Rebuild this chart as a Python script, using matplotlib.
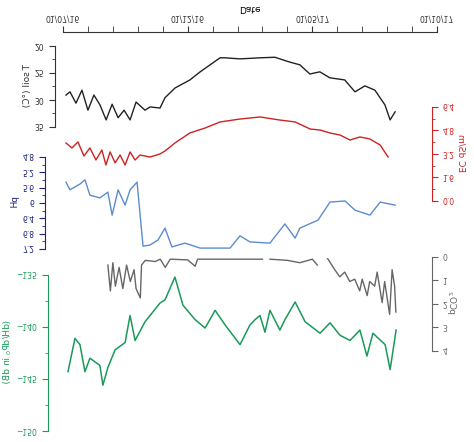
import matplotlib

matplotlib.use("Agg")
import matplotlib.pyplot as plt
import numpy as np

# the reference is shown upside down, so the chart is drawn upright and flipped at the end
W, H = 474, 442

date_ticks = [0, 5, 10, 15]
date_labels = ["01/07/16", "01/12/16", "01/05/17", "01/10/17"]

soil_m = [0.12, 0.28, 0.52, 0.76, 1.0, 1.24, 1.48, 1.73, 1.97, 2.21, 2.45, 2.69, 2.93, 3.29, 3.49,
          3.89, 4.09, 4.49, 5.09, 5.5, 5.9, 6.3, 6.5, 7.1, 7.9, 8.5, 9.1, 9.5, 9.9, 10.3, 10.7,
          11.3, 11.71, 12.11, 12.51, 12.91, 13.12, 13.32]
soil_t = [28.9, 28.3, 30.4, 28.0, 31.7, 28.9, 30.7, 33.5, 30.6, 33.1, 31.7, 33.5, 30.2, 31.7, 31.1,
          31.3, 29.4, 27.6, 26.1, 24.6, 23.3, 22.0, 22.0, 22.2, 22.0, 21.9, 22.8, 23.3, 25.0, 24.6,
          25.7, 26.1, 28.3, 27.2, 28.0, 30.7, 33.5, 32.0]

ec_m = [0.12, 0.36, 0.6, 0.84, 1.08, 1.32, 1.56, 1.72, 1.89, 2.09, 2.29, 2.49, 2.69, 2.89, 3.09,
        3.49, 3.89, 4.09, 4.49, 5.09, 5.7, 6.3, 7.1, 7.9, 8.7, 9.31, 9.91, 10.31, 10.71, 11.11,
        11.51, 11.91, 12.31, 12.72, 13.04]
ec = [4.02, 3.68, 4.09, 3.13, 3.68, 2.86, 3.54, 2.52, 3.41, 2.66, 3.2, 2.52, 3.41, 2.86, 3.2,
      3.06, 3.27, 3.47, 4.02, 4.70, 5.04, 5.45, 5.65, 5.79, 5.58, 5.45, 4.97, 4.90, 4.70, 4.56,
      4.22, 4.43, 4.29, 3.88, 3.06]

ph_m = [0.12, 0.28, 0.68, 0.88, 1.08, 1.48, 1.8, 1.97, 2.21, 2.49, 2.69, 2.97, 3.21, 3.49, 3.81,
        4.09, 4.37, 4.89, 5.5, 6.7, 7.1, 7.5, 8.3, 8.9, 9.31, 9.5, 10.23, 10.71, 11.31, 11.71,
        12.31, 12.72, 13.32]
ph = [5.43, 5.63, 5.48, 5.37, 5.77, 5.84, 5.69, 6.29, 5.63, 6.03, 5.63, 5.43, 7.1, 7.07, 6.94,
      6.63, 7.12, 7.02, 7.15, 7.15, 6.83, 6.99, 7.02, 6.52, 6.89, 6.63, 6.42, 5.95, 5.92, 6.16,
      6.29, 5.95, 6.03]

pco2_m = [1.8, 1.9, 2.0, 2.1, 2.25, 2.4, 2.55, 2.7, 2.85, 2.93, 3.1, 3.15, 3.3, 3.7, 3.9, 4.1, 4.3,
          5.0, 5.3, 5.4, 6.5, 8.0, 8.1, 8.3, 9.0, 9.5, 10.0, 10.2, 10.3, 10.6, 10.9, 11.1, 11.3,
          11.5, 11.7, 11.9, 12.0, 12.2, 12.3, 12.5, 12.6, 12.8, 12.9, 13.1, 13.2, 13.3, 13.35]
pco2 = [0.3, 1.4, 0.2, 1.2, 0.4, 1.3, 0.3, 1.0, 0.5, 1.3, 1.7, 0.3, 0.1, 0.15, 0.05, 0.4, 0.05,
        0.08, 0.35, 0.05, 0.05, 0.05, np.nan, 0.05, 0.1, 0.2, 0.05, 0.3, np.nan, 0.0, 0.5, 0.8, 0.6,
        1.0, 0.9, 1.4, 0.9, 1.6, 1.0, 1.2, 0.6, 1.9, 1.0, 2.4, 0.5, 1.2, 2.3]

green_m = [0.2, 0.48, 0.68, 0.88, 1.08, 1.48, 1.6, 1.8, 2.09, 2.49, 2.69, 2.89, 3.29, 3.89, 4.09,
           4.49, 4.81, 5.3, 5.7, 6.1, 6.5, 7.1, 7.5, 7.7, 7.9, 8.1, 8.3, 8.7, 8.9, 9.31, 9.71,
           10.31, 10.71, 11.11, 11.51, 11.91, 12.19, 12.43, 12.92, 13.12, 13.36]
green = [-144.2, -141.0, -141.6, -144.2, -142.9, -143.6, -145.5, -143.8, -142.1, -141.4, -138.8,
         -141.2, -139.4, -137.6, -137.3, -135.1, -137.8, -139.2, -140.0, -138.3, -139.7, -141.6,
         -139.7, -139.2, -138.8, -140.4, -138.3, -140.2, -139.2, -137.5, -139.4, -140.5, -139.5,
         -140.7, -141.2, -140.2, -142.7, -140.5, -141.6, -144.0, -140.2]

fig = plt.figure(figsize=(W / 100, H / 100), dpi=100)
plt.rcParams["font.size"] = 6
X0, X1 = 63, 437


def panel(t, b):
    # t, b are pixel rows measured from the top of the (flipped) reference
    ax = fig.add_axes([X0 / W, t / H, (X1 - X0) / W, (b - t) / H])
    ax.patch.set_alpha(0)
    ax.set_xlim(0, 15)
    ax.set_xticks([])
    for s in ax.spines.values():
        s.set_visible(False)
    return ax


def left_axis(ax, x, color, label, ticks, lim, minor=None):
    ax.spines["left"].set_visible(True)
    ax.spines["left"].set_position(("outward", X0 - x))
    ax.spines["left"].set_color(color)
    ax.set_ylim(*lim)
    ax.set_yticks(ticks)
    if minor is not None:
        ax.set_yticks(minor, minor=True)
    ax.tick_params(axis="y", colors=color, labelsize=5.5, length=4, which="major")
    ax.tick_params(axis="y", colors=color, length=2, which="minor")
    ax.set_ylabel(label, color=color, fontsize=6.5, labelpad=2)


def right_axis(ax, color, label, ticks, lim, minor=None):
    ax.yaxis.tick_right()
    ax.yaxis.set_label_position("right")
    ax.spines["right"].set_visible(True)
    ax.spines["right"].set_position(("axes", (432 - X0) / (X1 - X0)))
    ax.spines["right"].set_color(color)
    ax.set_ylim(*lim)
    ax.set_yticks(ticks)
    if minor is not None:
        ax.set_yticks(minor, minor=True)
    ax.tick_params(axis="y", colors=color, labelsize=5.5, length=4, which="major")
    ax.tick_params(axis="y", colors=color, length=2, which="minor")
    ax.set_ylabel(label, color=color, fontsize=6.5, rotation=270, labelpad=8)


# date axis (line at row 33 of the reference)
ax = panel(33, 48)
ax.spines["bottom"].set_visible(True)
ax.spines["bottom"].set_color("#333333")
ax.set_xticks(date_ticks)
ax.set_xticklabels(date_labels, fontsize=5.5)
ax.set_xticks(np.arange(0, 16), minor=True)
ax.tick_params(axis="x", which="both", direction="out", length=4, colors="#333333", pad=3)
ax.set_yticks([])
ax.set_xlabel("Date", fontsize=6.5, labelpad=0)

ax = panel(47, 128)
ax.plot(soil_m, soil_t, color="#222222", lw=1)
left_axis(ax, 57, "#333333", "T soil (°C)", [20, 25, 30, 35], (20, 35),
          minor=np.arange(20, 35.1, 2.5))

ax = panel(108, 202)
ax.plot(ec_m, ec, color="#cc2222", lw=1)
right_axis(ax, "#cc2222", "EC dS/m", [0, 1.6, 3.2, 4.8, 6.4], (6.4, 0),
           minor=np.arange(0, 6.5, 0.8))

ax = panel(158, 250)
ax.plot(ph_m, ph, color="#5b8ccf", lw=1)
left_axis(ax, 50, "#1a237e", "pH", [4.8, 5.2, 5.6, 6.0, 6.4, 6.8, 7.2], (4.8, 7.2),
          minor=np.arange(4.8, 7.21, 0.2))
ax.set_yticklabels(["4.8", "5.2", "5.6", "6", "6.4", "6.8", "7.2"])

ax = panel(258, 352)
ax.plot(pco2_m, pco2, color="#666666", lw=1)
right_axis(ax, "#666666", "pCO$_2$", [0, 1, 2, 3, 4], (0, 4))

ax = panel(276, 432)
ax.plot(green_m, green, color="#1a9a5a", lw=1.1)
left_axis(ax, 52, "#1a9a5a", "280-285Hz avg\n(dH/dP$_0$ in dB)", [-135, -140, -145, -150],
          (-135, -150), minor=np.arange(-150, -134.9, 2.5))

fig.canvas.draw()
img = np.asarray(fig.canvas.buffer_rgba())
plt.imsave("out.png", img[::-1])
